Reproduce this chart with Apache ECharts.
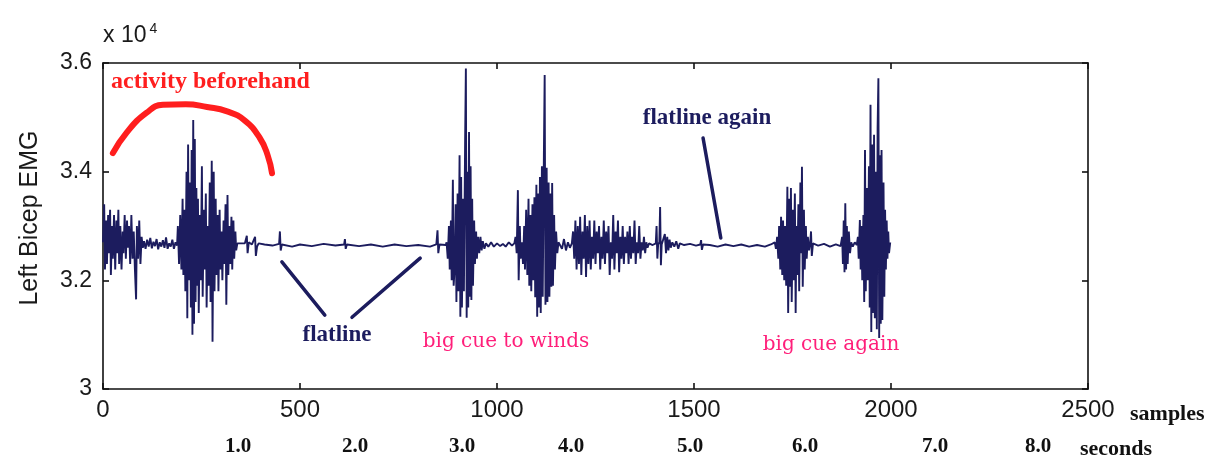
<!DOCTYPE html>
<html>
<head>
<meta charset="utf-8">
<script src="https://cdn.jsdelivr.net/npm/echarts@6/dist/echarts.min.js"></script>
<style>html,body{margin:0;padding:0;background:#fff;}#c{width:1214px;height:460px;}</style>
</head>
<body>
<div id="c"></div>
<script>
// ---- data (sample index, EMG value in units of 1e4) ----
var xTicks = [0, 500, 1000, 1500, 2000, 2500];
var yTicks = [3, 3.2, 3.4, 3.6];
var secondsLabels = ['1.0','2.0','3.0','4.0','5.0','6.0','7.0','8.0'];

var segRestNoise = [[0,3.27],[3,3.34],[5,3.22],[8,3.31],[10,3.23],[13,3.32],[15,3.25],[18,3.33],[20,3.21],[23,3.30],[25,3.24],[28,3.32],[31,3.22],[34,3.31],[36,3.25],[39,3.33],[41,3.23],[44,3.30],[47,3.22],[50,3.29],[52,3.25],[55,3.32],[58,3.24],[61,3.31],[63,3.26],[66,3.30],[69,3.23],[72,3.32],[75,3.24],[78,3.29],[81,3.22],[84,3.165],[86,3.30],[89,3.24],[92,3.31],[95,3.23],[98,3.28],[101,3.26],
[104,3.272],[108,3.258],[112,3.275],[116,3.262],[120,3.278],[124,3.259],[128,3.271],[132,3.263],[136,3.276],[140,3.257],[144,3.27],[148,3.262],[152,3.274],[156,3.26],[160,3.279],[164,3.258],[168,3.268],[172,3.262],[176,3.275],[180,3.258],[184,3.27],[188,3.264]];

var segEarlyBurst = [[190,3.30],[193,3.23],[196,3.32],[199,3.22],[202,3.35],[204,3.21],[207,3.33],[209,3.18],[212,3.40],[214,3.13],[216,3.45],[218,3.20],[221,3.38],[223,3.15],[225,3.44],[227,3.10],[229,3.495],[231,3.12],[233,3.46],[235,3.16],[237,3.37],[239,3.19],[241,3.35],[243,3.14],[246,3.32],[248,3.20],[251,3.41],[253,3.17],[256,3.33],[258,3.22],[261,3.36],[263,3.15],[266,3.30],[268,3.19],[271,3.38],[273,3.16],[276,3.42],[278,3.087],[281,3.40],[283,3.18],[286,3.35],[288,3.21],[291,3.32],[293,3.18],[296,3.33],[298,3.22],[301,3.29],[303,3.20],[306,3.31],[308,3.23],[311,3.34],[313,3.155],[316,3.357],[318,3.21],[321,3.30],[323,3.23],[326,3.317],[328,3.22],[331,3.31],[333,3.24],[336,3.29],[338,3.255],[341,3.268]];

var segFlat1 = [[345,3.266],[360,3.268],[365,3.282],[367,3.25],[370,3.27],[378,3.266],[386,3.28],[388,3.245],[391,3.262],[395,3.268],[410,3.266],[430,3.264],[447,3.267],[449,3.29],[451,3.255],[454,3.266],[480,3.262],[500,3.266],[530,3.263],[560,3.267],[590,3.264],[612,3.266],[614,3.276],[616,3.258],[619,3.266],[650,3.263],[680,3.266],[710,3.262],[740,3.266],[770,3.263],[800,3.265],[830,3.262],[846,3.266],[849,3.292],[851,3.25],[854,3.266],[870,3.265]];

var segCueBurst1 = [[872,3.27],[875,3.24],[878,3.30],[880,3.22],[883,3.31],[885,3.20],[888,3.385],[890,3.19],[893,3.23],[895,3.34],[897,3.16],[900,3.36],[902,3.18],[905,3.43],[907,3.133],[909,3.39],[911,3.15],[914,3.35],[916,3.18],[919,3.45],[921,3.59],[923,3.131],[925,3.40],[927,3.15],[929,3.473],[931,3.17],[933,3.41],[935,3.164],[937,3.35],[939,3.19],[942,3.31],[944,3.23],[947,3.29],[949,3.24],[952,3.28],[955,3.25],[958,3.28],[961,3.255],[964,3.272],[968,3.258],[972,3.268],
[978,3.262],[985,3.27],[992,3.262],[1000,3.268],[1008,3.263],[1015,3.267],[1022,3.262],[1030,3.27],[1038,3.264],[1044,3.268]];

var segCueBurst2 = [[1047,3.28],[1050,3.25],[1053,3.366],[1055,3.20],[1058,3.30],[1060,3.24],[1063,3.27],[1066,3.23],[1069,3.30],[1071,3.22],[1074,3.33],[1077,3.21],[1080,3.35],[1082,3.19],[1085,3.32],[1087,3.18],[1090,3.34],[1092,3.20],[1095,3.353],[1097,3.169],[1100,3.376],[1102,3.133],[1104,3.36],[1106,3.15],[1109,3.39],[1111,3.14],[1114,3.41],[1116,3.17],[1119,3.43],[1121,3.578],[1123,3.155],[1126,3.407],[1128,3.16],[1131,3.38],[1133,3.17],[1136,3.36],[1138,3.188],[1140,3.379],[1142,3.19],[1145,3.32],[1147,3.22],[1150,3.29],[1153,3.25],[1156,3.27],
[1160,3.272],[1165,3.258],[1170,3.276],[1175,3.255],[1180,3.27],[1185,3.26],[1190,3.268]];

var segMidNoise = [[1193,3.29],[1196,3.24],[1199,3.31],[1202,3.22],[1205,3.30],[1208,3.23],[1211,3.317],[1214,3.21],[1217,3.29],[1220,3.24],[1223,3.32],[1226,3.206],[1229,3.30],[1232,3.23],[1235,3.31],[1238,3.22],[1241,3.28],[1244,3.24],[1247,3.31],[1250,3.23],[1253,3.29],[1256,3.25],[1259,3.30],[1262,3.22],[1265,3.28],[1268,3.24],[1271,3.31],[1274,3.23],[1277,3.29],[1280,3.25],[1283,3.30],[1286,3.21],[1289,3.27],[1292,3.24],[1295,3.32],[1298,3.22],[1301,3.29],[1304,3.25],[1307,3.31],[1310,3.215],[1313,3.28],[1316,3.24],[1319,3.30],[1322,3.23],[1325,3.28],[1328,3.25],[1331,3.29],[1334,3.23],[1337,3.30],[1340,3.24],[1343,3.28],[1346,3.25],[1349,3.31],[1352,3.23],[1355,3.27],[1358,3.25],[1361,3.30],[1364,3.24],[1367,3.27],[1370,3.255],[1373,3.28],[1376,3.25],[1379,3.27],[1382,3.26],[1386,3.268],
[1395,3.265],[1403,3.268],[1405,3.30],[1407,3.24],[1409,3.266],[1412,3.27],[1414,3.335],[1416,3.228],[1418,3.266],[1422,3.268],[1426,3.285],[1429,3.25],[1432,3.28],[1435,3.255],[1438,3.275],[1441,3.26],[1445,3.27],[1450,3.262],[1455,3.272],[1460,3.258],[1464,3.268]];

var segFlat2 = [[1475,3.265],[1490,3.267],[1505,3.264],[1516,3.266],[1518,3.274],[1520,3.256],[1523,3.266],[1540,3.265],[1560,3.262],[1580,3.266],[1600,3.263],[1620,3.266],[1640,3.262],[1660,3.265],[1680,3.262],[1695,3.266],[1705,3.27],[1708,3.258]];

var segAgainBurst1 = [[1711,3.28],[1714,3.24],[1716,3.30],[1719,3.22],[1721,3.317],[1724,3.21],[1726,3.31],[1729,3.20],[1731,3.30],[1734,3.19],[1737,3.372],[1739,3.14],[1742,3.35],[1744,3.188],[1746,3.37],[1748,3.16],[1751,3.33],[1753,3.20],[1756,3.36],[1758,3.14],[1760,3.30],[1762,3.21],[1765,3.34],[1767,3.18],[1770,3.38],[1772,3.25],[1774,3.409],[1776,3.188],[1779,3.33],[1781,3.22],[1784,3.30],[1786,3.24],[1789,3.28],[1792,3.255],[1795,3.27],[1797,3.29],[1799,3.245],[1802,3.268],
[1815,3.264],[1830,3.267],[1845,3.262],[1860,3.266],[1872,3.263],
[1876,3.28],[1878,3.23],[1880,3.31],[1882,3.215],[1884,3.342],[1886,3.22],[1888,3.30],[1890,3.23],[1893,3.29],[1896,3.25],[1899,3.27],[1903,3.262],[1908,3.27],[1913,3.265]];

var segAgainBurst2 = [[1916,3.28],[1918,3.24],[1921,3.311],[1923,3.22],[1925,3.30],[1927,3.20],[1930,3.32],[1932,3.16],[1934,3.44],[1936,3.18],[1939,3.37],[1941,3.20],[1944,3.41],[1946,3.15],[1948,3.523],[1950,3.105],[1952,3.45],[1954,3.14],[1957,3.468],[1959,3.13],[1962,3.40],[1964,3.11],[1966,3.48],[1968,3.572],[1970,3.094],[1972,3.43],[1974,3.12],[1976,3.44],[1978,3.127],[1981,3.38],[1983,3.17],[1985,3.33],[1987,3.22],[1989,3.31],[1991,3.24],[1993,3.29],[1995,3.25],[1998,3.27]];

// hand-drawn annotation strokes, in data coordinates
var activityArc = [[25,3.434],[60,3.472],[110,3.508],[152,3.523],[210,3.524],[264,3.519],[315,3.511],[360,3.494],[398,3.462],[418,3.430],[429,3.397]];
var pointerFlat1 = [[454,3.234],[563,3.136]];
var pointerFlat2 = [[632,3.132],[805,3.241]];
var pointerFlatAgain = [[1523,3.462],[1568,3.278]];

var emg = [].concat(segRestNoise, segEarlyBurst, segFlat1, segCueBurst1, segCueBurst2, segMidNoise, segFlat2, segAgainBurst1, segAgainBurst2);

// ---- chart ----
var chart = echarts.init(document.getElementById('c'), null, {renderer: 'canvas'});
var navy = '#1c1c5e';
var lineStyle = {color: '#111', width: 1.6};

function baseX(pos, showLabel) {
  return {
    type: 'value', position: pos, min: xTicks[0], max: xTicks[xTicks.length - 1], interval: 500,
    axisLine: {show: true, onZero: false, lineStyle: lineStyle},
    axisTick: {show: true, inside: true, length: 6, lineStyle: lineStyle},
    axisLabel: {show: showLabel, margin: 9, fontFamily: 'Liberation Sans, Arial, sans-serif', fontSize: 24, color: '#1a1a1a',
      formatter: function (v) { return String(v); }},
    splitLine: {show: false}
  };
}
function baseY(pos, showLabel) {
  return {
    type: 'value', position: pos, min: yTicks[0], max: yTicks[yTicks.length - 1], interval: 0.2,
    axisLine: {show: true, onZero: false, lineStyle: lineStyle},
    axisTick: {show: true, inside: true, length: 6, lineStyle: lineStyle},
    axisLabel: {show: showLabel, margin: 11, fontFamily: 'Liberation Sans, Arial, sans-serif', fontSize: 23, color: '#1a1a1a',
      formatter: function (v) { return Math.abs(v - 3) < 1e-9 ? '3' : v.toFixed(1); }},
    splitLine: {show: false}
  };
}

var secondsX = [238, 355, 462, 571, 690, 805, 935, 1038];
var graphics = [];
var bold = 'bold 21px "Liberation Serif", serif';
secondsLabels.forEach(function (t, i) {
  graphics.push({type: 'text', x: secondsX[i], y: 447,
    style: {text: t, font: bold, fill: '#111', align: 'center', verticalAlign: 'middle'}});
});
graphics.push({type: 'text', left: 1080, top: 438, style: {text: 'seconds', font: 'bold 22px "Liberation Serif", serif', fill: '#111'}});
graphics.push({type: 'text', left: 1130, top: 403, style: {text: 'samples', font: 'bold 22px "Liberation Serif", serif', fill: '#111'}});
graphics.push({type: 'text', left: 103, top: 22, style: {
  text: '{m|x 10}{s|4}',
  rich: {m: {font: '23px "Liberation Sans", sans-serif', fill: '#1a1a1a', padding: [0, 3, 0, 0]},
         s: {font: '14px "Liberation Sans", sans-serif', fill: '#1a1a1a', verticalAlign: 'top', padding: [0, 0, 14, 0]}}
}});
graphics.push({type: 'text', x: 30, y: 218, rotation: Math.PI / 2, style: {
  text: 'Left Bicep EMG', font: '25px "Liberation Sans", sans-serif', fill: '#1a1a1a', align: 'center', verticalAlign: 'middle'}});
graphics.push({type: 'text', left: 111, top: 70, style: {text: 'activity beforehand', font: 'bold 24px "Liberation Serif", serif', fill: '#ff1e1e'}});
graphics.push({type: 'text', x: 337, y: 335, style: {text: 'flatline', font: 'bold 23px "Liberation Serif", serif', fill: navy, align: 'center', verticalAlign: 'middle'}});
graphics.push({type: 'text', x: 707, y: 118, style: {text: 'flatline again', font: 'bold 23px "Liberation Serif", serif', fill: navy, align: 'center', verticalAlign: 'middle'}});
graphics.push({type: 'text', x: 506, y: 342, style: {text: 'big cue to winds', font: '20px "DejaVu Serif", serif', fill: '#ff1f7a', align: 'center', verticalAlign: 'middle'}});
graphics.push({type: 'text', x: 831, y: 345, style: {text: 'big cue again', font: '20px "DejaVu Serif", serif', fill: '#ff1f7a', align: 'center', verticalAlign: 'middle'}});

function stroke(data, color, width, smooth) {
  return {type: 'line', data: data, symbol: 'none', smooth: smooth, silent: true, z: 3,
    lineStyle: {color: color, width: width, cap: 'round', join: 'round'}, xAxisIndex: 0, yAxisIndex: 0};
}

chart.setOption({
  animation: false,
  backgroundColor: '#ffffff',
  grid: {left: 103, right: 126, top: 63, bottom: 71, containLabel: false},
  xAxis: [baseX('bottom', true), baseX('top', false)],
  yAxis: [baseY('left', true), baseY('right', false)],
  series: [
    {type: 'line', data: emg, symbol: 'none', xAxisIndex: 0, yAxisIndex: 0,
     lineStyle: {color: navy, width: 1.9}, z: 2},
    stroke(activityArc, '#ff1e1e', 6, 0.5),
    stroke(pointerFlat1, navy, 3.5, false),
    stroke(pointerFlat2, navy, 3.5, false),
    stroke(pointerFlatAgain, navy, 3.5, false)
  ],
  graphic: graphics
});
</script>
</body>
</html>
